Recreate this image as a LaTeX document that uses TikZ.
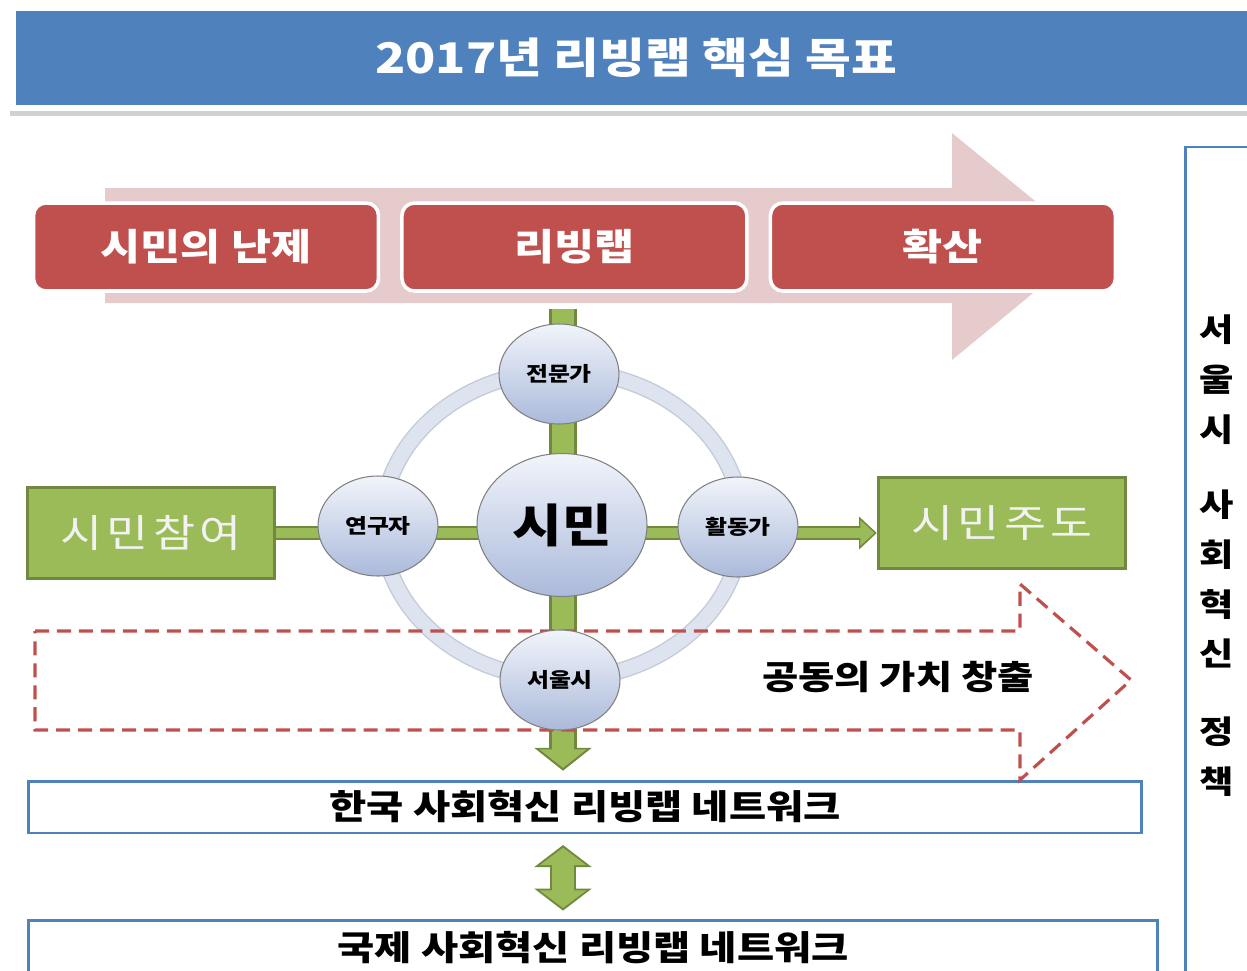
\documentclass[tikz,border=0pt]{standalone}
\usepackage{fontspec}
\setmainfont{Noto Sans CJK KR}[FakeStretch=1.18]
\usetikzlibrary{arrows.meta, positioning, shapes.geometric, backgrounds}

\definecolor{titleblue}{HTML}{4F81BD}
\definecolor{redfill}{HTML}{C0504D}
\definecolor{pinkbg}{HTML}{E6CBCC}
\definecolor{glight}{HTML}{9BBB59}
\definecolor{gdark}{HTML}{71893F}
\definecolor{gtext}{HTML}{F2F2F2}
\definecolor{ringc}{HTML}{DDE3EF}
\definecolor{ringedge}{HTML}{C3CAD8}
\definecolor{circtop}{HTML}{F1F4FA}
\definecolor{circbot}{HTML}{ABBADB}

\begin{document}
\begin{tikzpicture}[x=0.02cm, y=-0.02cm,
    titlebar/.style={rectangle, fill=titleblue, text=white, minimum width=24.8cm, minimum height=1.88cm,
        font=\bfseries\fontsize{24}{28}\selectfont},
    redbox/.style={rectangle, rounded corners=0.25cm, fill=redfill, draw=white, line width=2pt, text=white,
        minimum width=6.9cm, minimum height=1.76cm, font=\bfseries\fontsize{21}{24}\selectfont},
    greenbox/.style={rectangle, fill=glight, draw=gdark, line width=2pt, text=gtext,
        minimum width=4.94cm, minimum height=1.82cm, font=\fontsize{22}{26}\selectfont\addfontfeatures{LetterSpace=12}},
    person/.style={ellipse, top color=circtop, bottom color=circbot, draw=gray, line width=0.6pt,
        minimum width=2.4cm, minimum height=2cm, inner sep=0pt, font=\bfseries\fontsize{11.5}{13}\selectfont},
    bigperson/.style={person, minimum width=3.4cm, minimum height=2.86cm, font=\bfseries\fontsize{26}{30}\selectfont},
    netbox/.style={rectangle, draw=titleblue, line width=1.7pt, fill=white, minimum height=1.04cm,
        font=\bfseries\fontsize{19.5}{22}\selectfont},
    valuearrow/.style={draw=redfill, line width=1.8pt, dash pattern=on 8pt off 4.5pt},
    gouter/.style={draw=gdark, line width=#1},
    ginner/.style={draw=glight, line width=#1}]

\useasboundingbox (0,0) rectangle (1247,970);
\clip (0,0) rectangle (1247,970);

% title
\fill[black!18] (10,14) rectangle (1260,116);
\fill[white] (7,5) rectangle (1260,111);
\node[titlebar] (title) at (636,58) {2017년 리빙랩 핵심 목표};

% process arrow
\fill[pinkbg] (105,188) -- (952,188) -- (952,133) -- (1090,246) -- (952,360) -- (952,303) -- (105,303) -- cycle;
\node[redbox] (problem) at (206,247) {시민의 난제};
\node[redbox, right=0.4cm of problem] (livinglab) {리빙랩};
\node[redbox, right=0.4cm of livinglab] (spread) {확산};

\node[greenbox] (join) at (151,533) {시민참여};
\node[greenbox] (lead) at (1002,523) {시민주도};

\node[netbox, minimum width=22.28cm] (kor) at (585,807) {한국 사회혁신 리빙랩 네트워크};
\node[netbox, minimum width=22.6cm, minimum height=1.12cm] (intl) at (593,948) {국제 사회혁신 리빙랩 네트워크};

\draw[draw=titleblue, line width=1.7pt] (1185,147) rectangle (1300,1000);
\node[font=\bfseries\fontsize{18}{28.4}\selectfont, align=center] (policy) at (1217,556)
    {서\\울\\시\\[14pt]사\\회\\혁\\신\\[16pt]정\\책};

% shared value
\draw[valuearrow] (35,631) -- (1020,631) -- (1020,584) -- (1131,680) -- (1020,780) -- (1020,730) -- (35,730) -- cycle;
\node[font=\bfseries\fontsize{19}{22}\selectfont] (value) at (898,677) {공동의 가치 창출};

\node[bigperson] (citizen) at (562,525) {시민};
\node[person] (expert) at (559,374) {전문가};
\node[person] (research) at (378,526) {연구자};
\node[person] (activist) at (738,527) {활동가};
\node[person] (seoul) at (560,680) {서울시};

\coordinate (vtop) at (563,309);

\begin{scope}[on background layer]
    \draw[ringedge, line width=9.6pt] (citizen.center) ellipse [x radius=3.6cm, y radius=3.08cm];
    \draw[ringc, line width=8pt] (citizen.center) ellipse [x radius=3.6cm, y radius=3.08cm];
    \draw[gouter=8pt, -{Triangle[length=10pt, width=18pt]}] (join.east) -- (join.east -| lead.west);
    \draw[ginner=5.4pt, -{Triangle[length=8pt, width=14pt]}, shorten >=1.3pt] (join.east) -- (join.east -| lead.west);
    \draw[gouter=15.5pt, -{Triangle[length=13pt, width=32pt]}, shorten >=5pt] (vtop) -- (vtop |- kor.north);
    \draw[ginner=12.5pt, -{Triangle[length=10.5pt, width=26pt]}, shorten >=6.6pt] (vtop) -- (vtop |- kor.north);
\end{scope}

\draw[gouter=15pt, {Triangle[length=12.5pt, width=32pt]}-{Triangle[length=12.5pt, width=32pt]},
    shorten <=6pt, shorten >=4.5pt] (vtop |- kor.south) -- (vtop |- intl.north);
\draw[ginner=12pt, {Triangle[length=10pt, width=26pt]}-{Triangle[length=10pt, width=26pt]},
    shorten <=7.5pt, shorten >=6pt] (vtop |- kor.south) -- (vtop |- intl.north);

\end{tikzpicture}
\end{document}
